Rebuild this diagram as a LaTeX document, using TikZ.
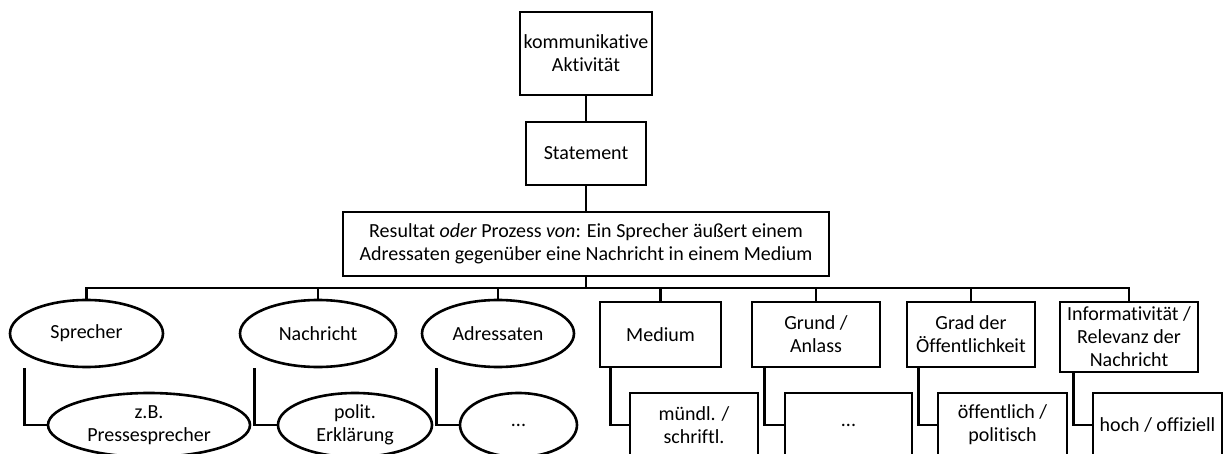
\documentclass[tikz,border=0pt]{standalone}
\usepackage{fontspec}
\setmainfont{Carlito}[Ligatures={NoCommon}]
\usetikzlibrary{shapes.geometric,calc}
\begin{document}
\begin{tikzpicture}[x=1pt,y=-1pt,
  every node/.style={font=\fontsize{20}{23}\selectfont, align=center, inner sep=0pt, line width=2.6pt},
  box/.style={draw, rectangle, minimum width=#1},
  oval/.style={draw, ellipse, minimum width=#1, minimum height=67},
  link/.style={draw, line width=2.6pt}]
\clip (0,0) rectangle (1223,454);
\useasboundingbox (0,0) rectangle (1223,454);

% upper chain
\node[box=132, minimum height=83] (akt) at (586,53.5) {kommunikative\\Aktivität};
\node[box=120, minimum height=63] (stm) at (586,153.5) {Statement};
\node[box=486, minimum height=64] (res) at (586,244)
  {Resultat \textit{oder} Prozess \textit{von}: Ein Sprecher äußert einem\\Adressaten gegenüber eine Nachricht in einem Medium};
\coordinate (bus) at (586,288);

% aspects
\node[oval=153] (spr) at (86.5,333.5) {Sprecher};
\node[oval=156] (nach) at (318,333.5) {Nachricht};
\node[oval=152] (adr) at (498,333.5) {Adressaten};
\node[box=121, minimum height=65] (med) at (660.5,334.5) {Medium};
\node[box=128, minimum height=65] (grund) at (816,334.5) {Grund /\\Anlass};
\node[box=128, minimum height=65] (grad) at (971,334.5) {Grad der\\Öffentlichkeit};
\node[box=138, minimum height=70] (info) at (1129,337) {Informativität /\\Relevanz der\\Nachricht};

% examples
\node[oval=202, minimum height=64] (zb) at (149,425) {z.B.\\Pressesprecher};
\node[oval=154, minimum height=64] (pol) at (355,425) {polit.\\Erklärung};
\node[oval=117, minimum height=64] (adrx) at (518.5,425) {...};
\node[box=128, minimum height=64] (mue) at (694,425) {mündl. /\\schriftl.};
\node[box=127, minimum height=64] (grundx) at (848.5,425) {...};
\node[box=129, minimum height=64] (oef) at (1002.5,425) {öffentlich /\\politisch};
\node[box=129, minimum height=64] (hoch) at (1157.5,425) {hoch / offiziell};

% connectors
\path[link] (akt) -- (stm);
\path[link] (stm) -- (res);
\path[link] (res.south) -- (bus);
\foreach \c in {spr,nach,adr,med,grund,grad,info}
  \path[link] (bus) -| (\c.north);
\foreach \p/\s/\d in {spr/zb/16,nach/pol/16,adr/adrx/16,med/mue/12,grund/grundx/14,grad/oef/13,info/hoch/15}
  \path[link] ($(\p.west |- \p.south)+(\d,0)$) |- (\s.west);
\end{tikzpicture}
\end{document}
